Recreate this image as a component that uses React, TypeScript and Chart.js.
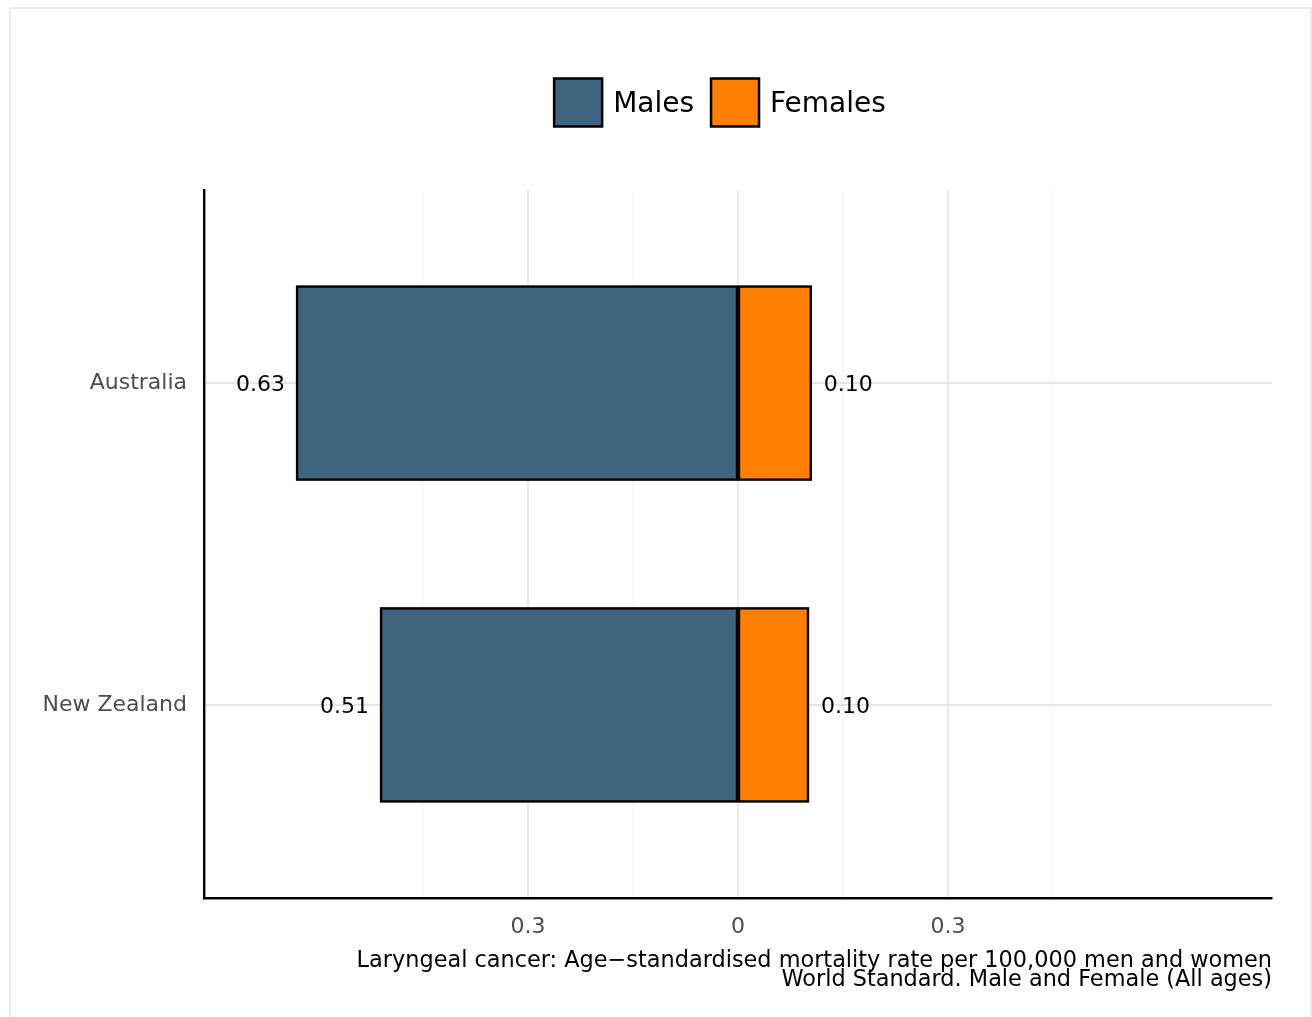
import React, { useEffect, useRef } from "react";
import { Chart, registerables } from "chart.js";

Chart.register(...registerables);

// ---- data ----
const categories = ["Australia", "New Zealand"];
const males = [0.63, 0.51];
const females = [0.104, 0.1];
const seriesNames = ["Males", "Females"];
const seriesColors = ["#3F6480", "#FF7F00"];
const majorTicks = [-0.3, 0, 0.3];
const minorTicks = [-0.45, -0.15, 0.15, 0.45];
const xLimits = [-0.763, 0.763];
const captionLines = [
  "Laryngeal cancer: Age\u2212standardised mortality rate per 100,000 men and women",
  "World Standard. Male and Female (All ages)",
];

const FONT = '"DejaVu Sans", "Liberation Sans", sans-serif';

const isMajor = (v: number) => majorTicks.some((t) => Math.abs(t - v) < 1e-6);

const decorPlugin = {
  id: "decor",
  beforeDraw(chart: any) {
    const ctx = chart.ctx;
    ctx.save();
    ctx.strokeStyle = "#ebebeb";
    ctx.lineWidth = 2;
    ctx.strokeRect(10, 8, 1301, 1100);
    ctx.restore();
  },
  afterDatasetsDraw(chart: any) {
    const ctx = chart.ctx;
    ctx.save();
    ctx.strokeStyle = "#000000";
    ctx.lineWidth = 2.4;
    chart.data.datasets.forEach((_: any, di: number) => {
      const meta = chart.getDatasetMeta(di);
      meta.data.forEach((el: any) => {
        const p = el.getProps(["x", "y", "base", "height"], true);
        const left = Math.min(p.x, p.base);
        const w = Math.abs(p.x - p.base);
        ctx.strokeRect(left, p.y - p.height / 2, w, p.height);
      });
    });
    ctx.restore();
  },
  afterDraw(chart: any) {
    const ctx = chart.ctx;
    const area = chart.chartArea;
    ctx.save();
    // value labels
    ctx.font = `22px ${FONT}`;
    ctx.fillStyle = "#000000";
    ctx.textBaseline = "alphabetic";
    chart.data.datasets.forEach((ds: any, di: number) => {
      const meta = chart.getDatasetMeta(di);
      meta.data.forEach((el: any, i: number) => {
        const v = ds.data[i].x;
        const txt = Math.abs(v).toFixed(2);
        if (v < 0) {
          ctx.textAlign = "right";
          ctx.fillText(txt, el.x - 12, el.y + 8);
        } else {
          ctx.textAlign = "left";
          ctx.fillText(txt, el.x + 13, el.y + 8);
        }
      });
    });
    // caption
    ctx.font = `22.4px ${FONT}`;
    ctx.textAlign = "right";
    ctx.fillText(captionLines[0], area.right, 967);
    ctx.fillText(captionLines[1], area.right, 986);

    // legend
    ctx.font = `28px ${FONT}`;
    const box = 48;
    const gapText = 11;
    const gapItem = 17;
    const widths = seriesNames.map((n) => ctx.measureText(n).width);
    let total = 0;
    widths.forEach((w, i) => {
      total += box + gapText + w + (i < widths.length - 1 ? gapItem : 0);
    });
    let x = 720 - total / 2;
    const cy = 102.5;
    seriesNames.forEach((name, i) => {
      ctx.fillStyle = seriesColors[i];
      ctx.fillRect(x, cy - box / 2, box, box);
      ctx.strokeStyle = "#000000";
      ctx.lineWidth = 2.5;
      ctx.strokeRect(x, cy - box / 2, box, box);
      ctx.fillStyle = "#000000";
      ctx.textAlign = "left";
      ctx.fillText(name, x + box + gapText, 112);
      x += box + gapText + widths[i] + gapItem;
    });
    ctx.restore();
  },
};

export default function App() {
  const ref = useRef<HTMLCanvasElement | null>(null);
  useEffect(() => {
    if (!ref.current) return;
    const chart = new Chart(ref.current, {
      type: "bar",
      data: {
        datasets: [
          {
            label: seriesNames[0],
            data: males.map((v, i) => ({ x: -v, y: i + 1 })),
            backgroundColor: seriesColors[0],
            borderWidth: 0,
            inflateAmount: 0,
            categoryPercentage: 1,
            barPercentage: 0.6,
          },
          {
            label: seriesNames[1],
            data: females.map((v, i) => ({ x: v, y: i + 1 })),
            backgroundColor: seriesColors[1],
            borderWidth: 0,
            inflateAmount: 0,
            categoryPercentage: 1,
            barPercentage: 0.6,
          },
        ],
      },
      options: {
        indexAxis: "y",
        animation: false,
        responsive: false,
        layout: { padding: { top: 190, right: 40, left: 0, bottom: 0 } },
        plugins: {
          legend: { display: false },
          tooltip: { enabled: false },
          title: { display: false },
        },
        scales: {
          x: {
            type: "linear",
            stacked: true,
            min: xLimits[0],
            max: xLimits[1],
            afterBuildTicks: (scale: any) => {
              scale.ticks = [...minorTicks, ...majorTicks]
                .sort((a, b) => a - b)
                .map((v) => ({ value: v }));
            },
            afterFit: (scale: any) => {
              scale.height = 119;
            },
            ticks: {
              autoSkip: false,
              maxRotation: 0,
              padding: 16,
              color: "#4d4d4d",
              font: { family: FONT, size: 22 },
              callback: (v: any) => {
                const n = Number(v);
                if (!isMajor(n)) return "";
                return n === 0 ? "0" : String(Math.abs(n));
              },
            },
            grid: {
              drawTicks: false,
              color: (c: any) => (isMajor(c.tick?.value) ? "#ebebeb" : "#f6f6f6"),
              lineWidth: (c: any) => (isMajor(c.tick?.value) ? 2 : 1.5),
            },
            border: { display: true, color: "#000000", width: 2.4 },
          },
          y: {
            type: "linear",
            stacked: true,
            reverse: true,
            offset: false,
            min: 0.4,
            max: 2.6,
            afterBuildTicks: (scale: any) => {
              scale.ticks = categories.map((_, i) => ({ value: i + 1 }));
            },
            afterFit: (scale: any) => {
              scale.width = 204;
            },
            ticks: {
              autoSkip: false,
              padding: 17,
              color: "#4d4d4d",
              font: { family: FONT, size: 22 },
              callback: (v: any) => categories[Number(v) - 1] ?? "",
            },
            grid: {
              offset: false,
              drawTicks: false,
              color: "#e5e5e5",
              lineWidth: 2,
            },
            border: { display: true, color: "#000000", width: 2.4 },
          },
        },
      },
      plugins: [decorPlugin],
    } as any);
    return () => chart.destroy();
  }, []);

  return (
    <div style={{ position: "fixed", left: 0, top: 0, width: 1312, height: 1017, background: "#ffffff" }}>
      <canvas ref={ref} width={1312} height={1017} style={{ display: "block", width: 1312, height: 1017 }} />
    </div>
  );
}
